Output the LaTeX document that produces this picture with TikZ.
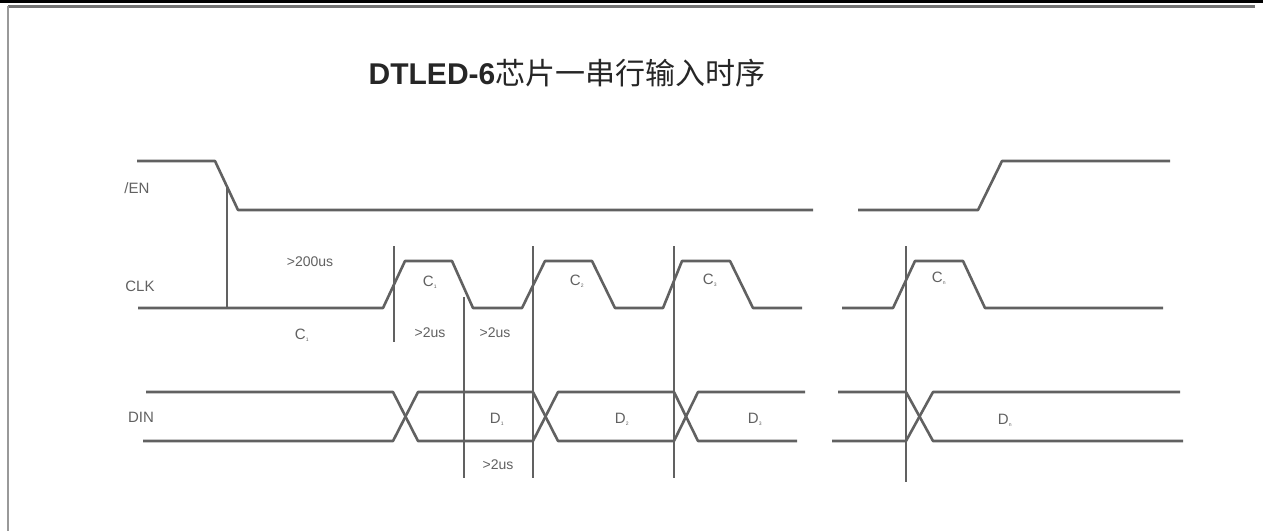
\documentclass[tikz,border=0pt]{standalone}
\usepackage{fontspec}
\setmainfont{Liberation Sans}
\newfontfamily\cjk{Noto Sans CJK SC}
\begin{document}
\begin{tikzpicture}[x=1pt,y=-1pt,
  wave/.style={draw=black!62,line width=2.6pt,line join=round},
  vline/.style={draw=black!62,line width=1.6pt},
  lbl/.style={text=black!62,font=\fontsize{14}{14}\selectfont,inner sep=0pt},
  sig/.style={text=black!62,font=\fontsize{15}{15}\selectfont,inner sep=0pt}]
\useasboundingbox (0,0) rectangle (1263,531);
\fill[white] (0,0) rectangle (1263,531);
% frame
\fill[black] (0,0) rectangle (1263,3);
\draw[black!55,line width=3pt] (8,6.5) -- (1255,6.5);
\draw[black!40,line width=2.5pt] (8,6) -- (8,531);
% title
\node[inner sep=0pt,text=black!85] (title) at (567,73)
  {\fontsize{30}{30}\selectfont\textbf{DTLED-6}{\cjk 芯片一串行输入时序}};
% signal names
\node[sig] (en) at (137,188) {/EN};
\node[sig] (clk) at (140,286) {CLK};
\node[sig] (din) at (141,417) {DIN};
% /EN
\draw[wave] (137,161) -- (215,161) -- (238,210) -- (813,210);
\draw[wave] (858,210) -- (978,210) -- (1002,161) -- (1170,161);
% CLK
\draw[wave] (138,308) -- (383,308) -- (405,261) -- (452,261) -- (473,308)
  -- (522,308) -- (545,261) -- (592,261) -- (615,308) -- (663,308)
  -- (682,261) -- (730,261) -- (753,308) -- (802,308);
\draw[wave] (842,308) -- (893,308) -- (915,261) -- (963,261) -- (985,308) -- (1163,308);
% DIN
\draw[wave] (146,392) -- (393,392) -- (418,441) -- (533,441) -- (558,392) -- (674,392)
  -- (698,441) -- (797,441);
\draw[wave] (143,441) -- (393,441) -- (418,392) -- (533,392) -- (558,441) -- (674,441)
  -- (698,392) -- (805,392);
\draw[wave] (838,392) -- (906,392) -- (933,441) -- (1183,441);
\draw[wave] (832,441) -- (906,441) -- (933,392) -- (1180,392);
% vertical markers
\draw[vline] (227,187) -- (227,308);
\draw[vline] (394,246) -- (394,342);
\draw[vline] (464,297) -- (464,478);
\draw[vline] (533,246) -- (533,478);
\draw[vline] (674,246) -- (674,478);
\draw[vline] (906,246) -- (906,482);
% timing labels
\node[lbl] (t200) at (310,262) {>200us};
\node[lbl] (t2a) at (430,333) {>2us};
\node[lbl] (t2b) at (495,333) {>2us};
\node[lbl] (t2c) at (498,465) {>2us};
% clock / data labels
\node[sig] (c0) at (302,335) {C\textsubscript{\tiny 1}};
\node[sig] (c1) at (430,282) {C\textsubscript{\tiny 1}};
\node[sig] (c2) at (577,281) {C\textsubscript{\tiny 2}};
\node[sig] (c3) at (710,280) {C\textsubscript{\tiny 3}};
\node[sig] (cn) at (939,278) {C\textsubscript{\tiny n}};
\node[sig] (d1) at (497,419) {D\textsubscript{\tiny 1}};
\node[sig] (d2) at (622,419) {D\textsubscript{\tiny 2}};
\node[sig] (d3) at (755,419) {D\textsubscript{\tiny 3}};
\node[sig] (dn) at (1005,420) {D\textsubscript{\tiny n}};
\end{tikzpicture}
\end{document}
